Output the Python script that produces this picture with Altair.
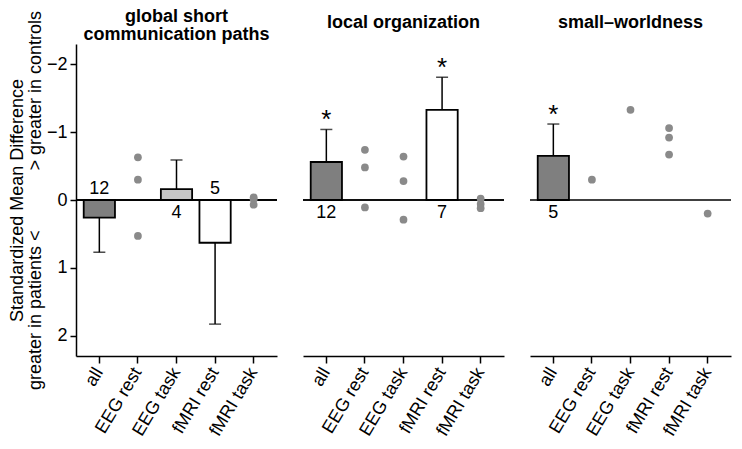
import altair as alt
import pandas as pd

FONT = "Liberation Sans"

categories = ["all", "EEG rest", "EEG task", "fMRI rest", "fMRI task"]
panel_keys = ["global", "local", "small"]
panel_titles = [["global short", "communication paths"], ["local organization"], ["small\u2013worldness"]]

# summary bars (positive = greater in patients, drawn downward)
bar_panel = ["global", "global", "global", "local", "local", "small"]
bar_cat = ["all", "EEG task", "fMRI rest", "all", "fMRI rest", "all"]
bar_mean = [0.26, -0.16, 0.63, -0.56, -1.33, -0.65]
bar_err = [0.77, -0.59, 1.83, -1.04, -1.81, -1.12]
bar_n = [12, 4, 5, 12, 7, 5]
bar_sig = [0, 0, 0, 1, 1, 1]

# individual studies
dot_panel = ["global"] * 6 + ["local"] * 9 + ["small"] * 6
dot_cat = (["EEG rest"] * 3 + ["fMRI task"] * 3
           + ["EEG rest"] * 3 + ["EEG task"] * 3 + ["fMRI task"] * 3
           + ["EEG rest", "EEG task", "fMRI rest", "fMRI rest", "fMRI rest", "fMRI task"])
dot_value = ([-0.63, -0.30, 0.53, -0.04, -0.01, 0.07]
             + [-0.74, -0.48, 0.11, -0.64, -0.28, 0.29, -0.02, 0.06, 0.12]
             + [-0.30, -1.33, -1.06, -0.92, -0.67, 0.20])

bars = pd.DataFrame({"panel": bar_panel, "cat": bar_cat, "mean": bar_mean,
                     "err": bar_err, "n": bar_n, "sig": bar_sig})
bars["zero"] = 0.0
dots = pd.DataFrame({"panel": dot_panel, "cat": dot_cat, "value": dot_value})

fill_scale = alt.Scale(domain=["all", "EEG task", "fMRI rest"],
                       range=["#7f7f7f", "#c6c6c6", "#ffffff"])

W, H = 201, 312


def panel(key, title, show_y):
    b = bars[bars.panel == key].reset_index(drop=True)
    d = dots[dots.panel == key].reset_index(drop=True)
    if show_y:
        yaxis = alt.Axis(values=[-2, -1, 0, 1, 2], grid=False, domainColor="black",
                         domainWidth=1.5, tickColor="black", tickWidth=1.5, tickSize=6,
                         labelFont=FONT, labelFontSize=18, labelColor="black", labelPadding=3,
                         title=["Standardized Mean Difference",
                                "greater in patients <" + "\u00a0" * 12 + "> greater in controls"],
                         titleFont=FONT, titleFontSize=18, titleFontWeight="normal",
                         titleColor="black", titlePadding=2, titleLineHeight=18)
    else:
        yaxis = None
    yscale = alt.Scale(domain=[-2.3, 2.3], reverse=True, nice=False, zero=False)
    x = alt.X("cat:N", sort=categories,
              scale=alt.Scale(domain=categories, paddingInner=0.19, paddingOuter=0.2),
              axis=alt.Axis(title=None, labelAngle=-59, labelAlign="right", labelBaseline="middle",
                            labelFont=FONT, labelFontSize=18, labelColor="black", labelPadding=6,
                            domainColor="black", domainWidth=1.5, tickColor="black",
                            tickWidth=1.5, tickSize=7, grid=False))

    def Y(field):
        return alt.Y(field, type="quantitative", scale=yscale, axis=yaxis)

    base_b = alt.Chart(b)
    bar = base_b.mark_bar(stroke="black", strokeWidth=1.8).encode(
        x=x, y=Y("mean"), y2="zero:Q",
        fill=alt.Fill("cat:N", scale=fill_scale, legend=None))
    err = base_b.mark_rule(color="black", strokeWidth=1.5).encode(x=x, y=Y("mean"), y2="err:Q")
    cap = base_b.mark_tick(color="black", thickness=1.5, size=12, orient="horizontal").encode(
        x=x, y=Y("err"))
    zero = base_b.mark_rule(color="black", strokeWidth=1.5).encode(y=Y("zero"))
    dot = alt.Chart(d).mark_circle(color="#8a8a8a", opacity=1, size=60).encode(x=x, y=Y("value"))
    n_up = base_b.transform_filter("datum.mean > 0").mark_text(
        font=FONT, fontSize=18, color="black", dy=-11).encode(x=x, y=Y("zero"), text="n:Q")
    n_dn = base_b.transform_filter("datum.mean < 0").mark_text(
        font=FONT, fontSize=18, color="black", dy=13).encode(x=x, y=Y("zero"), text="n:Q")
    star = base_b.transform_filter("datum.sig > 0").mark_text(
        font=FONT, fontSize=26, color="black", dy=-9, text="*").encode(x=x, y=Y("err"))
    ttl = alt.Chart(pd.DataFrame({"t": [0]})).mark_text(
        font=FONT, fontSize=18, fontWeight="bold", color="black", align="center",
        baseline="top", lineHeight=18, text=title if len(title) > 1 else title[0]).encode(
        x=alt.value(W / 2), y=alt.value(-36 if len(title) > 1 else -30))

    layers = [bar, err, cap, zero, dot, n_up, n_dn, star, ttl]
    return alt.layer(*layers).properties(width=W, height=H)


charts = [panel(k, t, i == 0) for i, (k, t) in enumerate(zip(panel_keys, panel_titles))]
chart = alt.hconcat(*charts, spacing=24).configure_view(stroke=None).properties(padding=0)

chart.save("out.html", embed_options={"renderer": "svg", "actions": False})
